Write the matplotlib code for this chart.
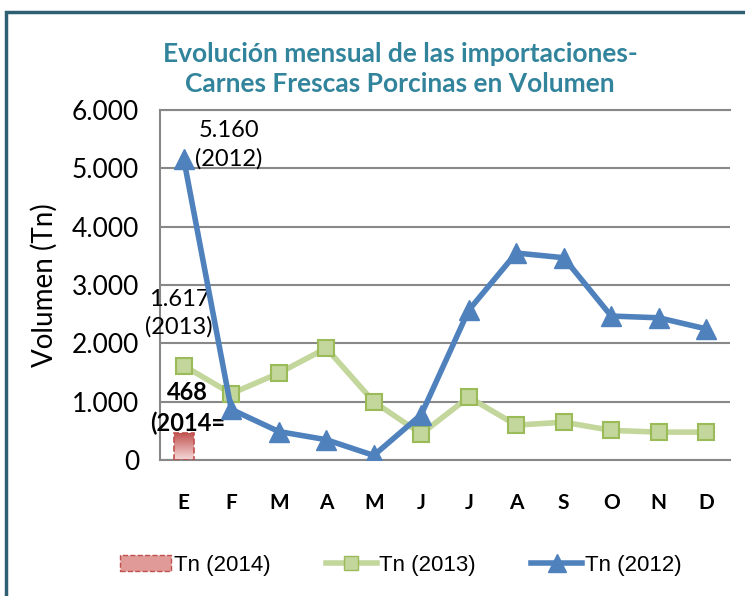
import numpy as np
import matplotlib
matplotlib.use("Agg")
import matplotlib.pyplot as plt
from matplotlib.patches import Rectangle
from matplotlib.lines import Line2D

# data
months = ["E", "F", "M", "A", "M", "J", "J", "A", "S", "O", "N", "D"]
tn_2014 = [468]
tn_2013 = [1617, 1140, 1490, 1920, 1000, 450, 1080, 600, 650, 510, 480, 480]
tn_2012 = [5160, 870, 490, 350, 80, 780, 2570, 3550, 3470, 2470, 2440, 2250]
yticks = [0, 1000, 2000, 3000, 4000, 5000, 6000]
ytick_labels = ["0", "1.000", "2.000", "3.000", "4.000", "5.000", "6.000"]

plt.rcParams["font.family"] = ["Lato", "DejaVu Sans"]

fig = plt.figure(figsize=(7.45, 5.96), dpi=100)
ax = fig.add_axes([0.2148, 0.228, 0.765, 0.5872])

x = np.arange(len(months))

# 2014 bar with a gradient fill
bars = ax.bar(x[:len(tn_2014)], tn_2014, width=0.42, facecolor="none",
              edgecolor="#c0504d", linestyle="--", linewidth=1.2, zorder=3)
for b in bars:
    grad = np.linspace(0, 1, 100).reshape(-1, 1)
    im = ax.imshow(grad, extent=[b.get_x(), b.get_x() + b.get_width(), 0, b.get_height()],
                   aspect="auto", cmap=matplotlib.colors.LinearSegmentedColormap.from_list(
                       "r", ["#f6dada", "#c0504d"]), origin="lower", zorder=2)
    im.set_clip_path(b)

ax.plot(x, tn_2013, color="#c3d69b", lw=4, marker="s", ms=11,
        mfc="#c3d69b", mec="#9bbb59", mew=1.5, zorder=4)
ax.plot(x, tn_2012, color="#4f81bd", lw=4, marker="^", ms=15,
        mfc="#4f81bd", mec="#4f81bd", zorder=5)

ax.set_xlim(-0.5, 11.5)
ax.set_ylim(0, 6000)
ax.set_yticks(yticks)
ax.set_yticklabels(ytick_labels, fontsize=19)
ax.set_xticks(x)
ax.set_xticklabels(months, fontsize=15, fontweight="bold")
ax.tick_params(axis="both", length=0)
ax.tick_params(axis="y", pad=15)
ax.tick_params(axis="x", pad=24)
ax.yaxis.grid(True, color="#888888", lw=1.5)
ax.set_axisbelow(True)
ax.spines["right"].set_visible(False)
for s in ["left", "bottom", "top"]:
    ax.spines[s].set_color("#888888")
    ax.spines[s].set_linewidth(1.5)

ax.set_ylabel("Volumen (Tn)", fontsize=20, labelpad=10)

# data labels
ax.text(0.95, tn_2012[0] + 240, "5.160\n(2012)", fontsize=17, ha="center", va="center",
        multialignment="center", linespacing=1.4)
ax.text(-0.1, tn_2013[0] + 900, "1.617\n(2013)", fontsize=17, ha="center", va="center",
        multialignment="center", linespacing=1.4)
ax.text(0.08, tn_2014[0] + 430, "468\n(2014=", fontsize=17, fontweight="bold",
        ha="center", va="center", multialignment="center", linespacing=1.4)

fig.text(0.537, 0.885, "Evolución mensual de las importaciones-\nCarnes Frescas Porcinas en Volumen",
         ha="center", va="center", fontsize=19, fontweight="bold", color="#31849b",
         linespacing=1.3)

handles = [
    Rectangle((0, 0), 1, 1, facecolor="#e09a98", edgecolor="#c0504d", linestyle="--"),
    Line2D([], [], color="#c3d69b", lw=4, marker="s", ms=10, mfc="#c3d69b", mec="#9bbb59"),
    Line2D([], [], color="#4f81bd", lw=4, marker="^", ms=13, mfc="#4f81bd", mec="#4f81bd"),
]
fig.legend(handles, ["Tn (2014)", "Tn (2013)", "Tn (2012)"], loc="center",
           bbox_to_anchor=(0.538, 0.052), ncol=3, frameon=False,
           prop={"family": "Liberation Sans", "size": 16},
           handlelength=2.3, handletextpad=0.1, columnspacing=2.5)

# outer chart frame
fig.patches.append(Rectangle((0.008, -0.05), 1.1, 1.03, transform=fig.transFigure,
                             fill=False, edgecolor="#2e5f72", lw=2.5))

fig.savefig("out.png", dpi=100)
